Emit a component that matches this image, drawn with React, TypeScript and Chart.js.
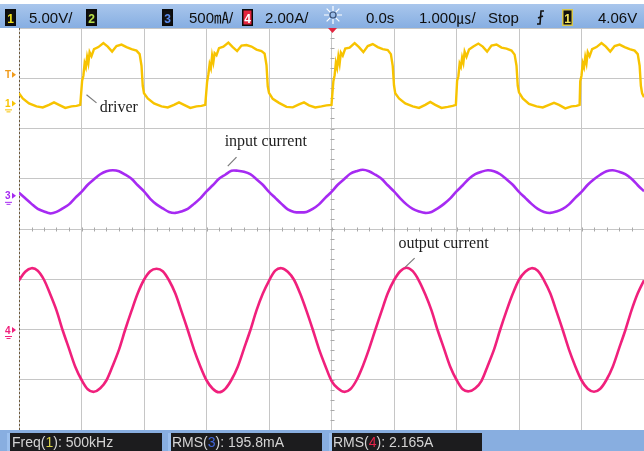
import React, { useEffect, useRef } from "react";
import { Chart, registerables } from "chart.js";

Chart.register(...registerables);

// time axis (µs, 1 µs/div, trigger at 0)
const timeUs = [
  -5.0, -4.9, -4.8, -4.7, -4.6, -4.5, -4.4, -4.3, -4.2, -4.1,
  -4.0, -3.9, -3.8, -3.7, -3.6, -3.5, -3.4, -3.3, -3.2, -3.1,
  -3.0, -2.9, -2.8, -2.7, -2.6, -2.5, -2.4, -2.3, -2.2, -2.1,
  -2.0, -1.9, -1.8, -1.7, -1.6, -1.5, -1.4, -1.3, -1.2, -1.1,
  -1.0, -0.9, -0.8, -0.7, -0.6, -0.5, -0.4, -0.3, -0.2, -0.1,
  0.0, 0.1, 0.2, 0.3, 0.4, 0.5, 0.6, 0.7, 0.8, 0.9,
  1.0, 1.1, 1.2, 1.3, 1.4, 1.5, 1.6, 1.7, 1.8, 1.9,
  2.0, 2.1, 2.2, 2.3, 2.4, 2.5, 2.6, 2.7, 2.8, 2.9,
  3.0, 3.1, 3.2, 3.3, 3.4, 3.5, 3.6, 3.7, 3.8, 3.9,
  4.0, 4.1, 4.2, 4.3, 4.4, 4.5, 4.6, 4.7, 4.8, 4.9,
  5.0,
];

// channel 3: input current (screen divisions)
const inputCurrentDiv = [
  0.72, 0.61, 0.5, 0.4, 0.35, 0.31, 0.34, 0.41, 0.49, 0.62,
  0.74, 0.88, 0.99, 1.09, 1.15, 1.17, 1.15, 1.08, 1.0, 0.87,
  0.75, 0.6, 0.49, 0.41, 0.34, 0.32, 0.35, 0.4, 0.5, 0.61,
  0.75, 0.87, 1.0, 1.08, 1.16, 1.16, 1.14, 1.09, 0.99, 0.88,
  0.74, 0.62, 0.5, 0.39, 0.34, 0.33, 0.34, 0.4, 0.49, 0.62,
  0.74, 0.88, 0.99, 1.1, 1.15, 1.18, 1.15, 1.08, 1.0, 0.87,
  0.75, 0.61, 0.49, 0.4, 0.35, 0.32, 0.34, 0.41, 0.5, 0.61,
  0.75, 0.87, 1.0, 1.09, 1.14, 1.17, 1.15, 1.09, 0.99, 0.88,
  0.74, 0.62, 0.5, 0.4, 0.34, 0.32, 0.35, 0.4, 0.49, 0.62,
  0.74, 0.88, 0.99, 1.08, 1.15, 1.17, 1.14, 1.09, 1.0, 0.87,
  0.75,
];

// channel 4: output current (screen divisions)
const outputCurrentDiv = [
  -1.02, -0.85, -0.78, -0.83, -1.01, -1.3, -1.62, -2.02, -2.38, -2.74,
  -3.0, -3.19, -3.24, -3.17, -3.01, -2.72, -2.4, -2.0, -1.63, -1.28,
  -1.01, -0.84, -0.79, -0.84, -1.02, -1.28, -1.64, -2.01, -2.4, -2.73,
  -3.01, -3.18, -3.25, -3.18, -3.0, -2.74, -2.38, -2.02, -1.62, -1.29,
  -1.03, -0.83, -0.78, -0.85, -1.01, -1.29, -1.63, -2.0, -2.39, -2.72,
  -3.02, -3.17, -3.24, -3.19, -3.01, -2.73, -2.39, -2.01, -1.64, -1.28,
  -1.02, -0.84, -0.77, -0.84, -1.03, -1.3, -1.62, -2.02, -2.38, -2.74,
  -3.0, -3.19, -3.23, -3.17, -3.02, -2.72, -2.4, -2.0, -1.63, -1.29,
  -1.01, -0.85, -0.78, -0.83, -1.02, -1.28, -1.64, -2.01, -2.4, -2.73,
  -3.01, -3.18, -3.24, -3.18, -3.0, -2.74, -2.38, -2.02, -1.62, -1.28,
  -1.02,
];

// channel 1: driver (sample times in µs, values in divisions)
const driverTimeUs = [
  -5.0, -4.94, -4.84, -4.72, -4.62, -4.52, -4.44, -4.36, -4.26, -4.16, -4.08, -4.02,
  -3.99, -3.97, -3.95, -3.93, -3.91, -3.89, -3.87, -3.84, -3.8, -3.73, -3.65, -3.58, -3.51, -3.44, -3.36, -3.28, -3.2, -3.12, -3.07, -3.04, -3.02,
  -3.0, -2.94, -2.84, -2.72, -2.62, -2.52, -2.44, -2.36, -2.26, -2.16, -2.08, -2.02,
  -1.99, -1.97, -1.95, -1.93, -1.91, -1.89, -1.87, -1.84, -1.8, -1.73, -1.65, -1.58, -1.51, -1.44, -1.36, -1.28, -1.2, -1.12, -1.07, -1.04, -1.02,
  -1.0, -0.94, -0.84, -0.72, -0.62, -0.52, -0.44, -0.36, -0.26, -0.16, -0.08, 0.0,
  0.03, 0.05, 0.07, 0.09, 0.11, 0.13, 0.15, 0.18, 0.22, 0.29, 0.37, 0.44, 0.51, 0.58, 0.66, 0.74, 0.82, 0.9, 0.95, 0.98, 1.0,
  1.02, 1.08, 1.18, 1.3, 1.4, 1.5, 1.58, 1.66, 1.76, 1.86, 1.94, 1.99,
  2.01, 2.03, 2.05, 2.07, 2.09, 2.11, 2.13, 2.16, 2.2, 2.27, 2.35, 2.42, 2.49, 2.56, 2.64, 2.72, 2.8, 2.88, 2.93, 2.96, 2.98,
  3.0, 3.06, 3.16, 3.28, 3.38, 3.48, 3.56, 3.64, 3.74, 3.84, 3.92, 3.97,
  3.98, 4.0, 4.02, 4.04, 4.06, 4.08, 4.1, 4.13, 4.17, 4.24, 4.32, 4.39, 4.46, 4.53, 4.61, 4.69, 4.77, 4.85, 4.9, 4.93, 4.95,
  4.97, 5.0,
];
const driverDiv = [
  2.7, 2.6, 2.5, 2.44, 2.42, 2.47, 2.52, 2.47, 2.41, 2.44, 2.45, 2.47,
  2.95, 3.05, 3.3, 3.22, 3.42, 3.3, 3.52, 3.44, 3.58, 3.62, 3.7, 3.63, 3.53, 3.64, 3.67, 3.62, 3.58, 3.55, 3.48, 3.25, 2.85,
  2.7, 2.6, 2.5, 2.44, 2.42, 2.47, 2.52, 2.47, 2.41, 2.44, 2.45, 2.47,
  2.93, 3.08, 3.28, 3.2, 3.45, 3.32, 3.5, 3.46, 3.6, 3.63, 3.71, 3.62, 3.54, 3.65, 3.66, 3.63, 3.57, 3.54, 3.49, 3.26, 2.84,
  2.71, 2.59, 2.51, 2.43, 2.42, 2.48, 2.52, 2.46, 2.42, 2.44, 2.46, 2.47,
  2.94, 3.06, 3.31, 3.21, 3.43, 3.29, 3.51, 3.45, 3.59, 3.61, 3.7, 3.62, 3.52, 3.64, 3.68, 3.62, 3.58, 3.56, 3.48, 3.24, 2.86,
  2.7, 2.6, 2.5, 2.44, 2.41, 2.47, 2.53, 2.47, 2.41, 2.43, 2.45, 2.47,
  2.95, 3.04, 3.29, 3.23, 3.41, 3.31, 3.53, 3.43, 3.57, 3.63, 3.69, 3.63, 3.53, 3.65, 3.67, 3.61, 3.59, 3.55, 3.47, 3.25, 2.85,
  2.72, 2.6, 2.49, 2.44, 2.42, 2.47, 2.51, 2.47, 2.4, 2.44, 2.45, 2.47,
  2.94, 3.05, 3.3, 3.22, 3.42, 3.3, 3.52, 3.44, 3.58, 3.62, 3.7, 3.63, 3.53, 3.64, 3.67, 3.62, 3.58, 3.55, 3.48, 3.25, 2.85,
  2.7, 2.62,
];

// on-screen readouts
const topReadouts = ["5.00V/", "500㎃/", "2.00A/", "0.0s", "1.000㎲/", "Stop", "4.06V"];
const bottomLabels = ["Freq(", "1", "): 500kHz", "RMS(", "3", "): 195.8mA", "RMS(", "4", "): 2.165A"];
const annotationTexts = ["driver", "input current", "output current"];

const SERIES_COLORS = { driver: "#f7c300", input: "#a62af2", output: "#f0207c" };
const UI_FONT = '"Liberation Sans", Arial, "Noto Sans CJK SC", sans-serif';

function badge(ctx: CanvasRenderingContext2D, x: number, digit: string, bg: string, fg: string, border?: string) {
  ctx.fillStyle = border || "#0a0a0a";
  ctx.fillRect(x, 9, 11, 17);
  ctx.fillStyle = bg;
  ctx.fillRect(x + 1.5, 10.5, 8, 14);
  ctx.fillStyle = fg;
  ctx.font = `bold 12px ${UI_FONT}`;
  ctx.textAlign = "center";
  ctx.fillText(digit, x + 5.5, 22.5);
  ctx.textAlign = "left";
}

function segments(ctx: CanvasRenderingContext2D, x: number, y: number, segs: [string, string][]) {
  let cx = x;
  for (const [t, c] of segs) {
    ctx.fillStyle = c;
    ctx.fillText(t, cx, y);
    cx += ctx.measureText(t).width;
  }
}

const scopePlugin = {
  id: "scopeDecor",
  beforeDraw(chart: any) {
    const { ctx, width, height } = chart;
    ctx.save();
    ctx.fillStyle = "#ffffff";
    ctx.fillRect(0, 0, width, height);
    ctx.restore();
  },
  beforeDatasetsDraw(chart: any) {
    const { ctx, chartArea: a } = chart;
    const x = chart.scales.x;
    const y = chart.scales.y;
    ctx.save();
    ctx.strokeStyle = "#a9a9a9";
    ctx.lineWidth = 1;
    const cx = Math.round(x.getPixelForValue(0)) + 0.5;
    const cy = Math.round(y.getPixelForValue(0)) + 0.5;
    ctx.beginPath();
    for (let v = -25; v <= 25; v++) {
      const px = Math.round(x.getPixelForValue(v / 5)) + 0.5;
      ctx.moveTo(px, cy - 2);
      ctx.lineTo(px, cy + 2);
    }
    for (let v = -20; v <= 20; v++) {
      const py = Math.round(y.getPixelForValue(v / 5)) + 0.5;
      ctx.moveTo(cx - 2, py);
      ctx.lineTo(cx + 2, py);
    }
    ctx.stroke();
    ctx.setLineDash([2, 2]);
    ctx.strokeStyle = "#6e5a3c";
    ctx.beginPath();
    ctx.moveTo(a.left + 0.5, a.top);
    ctx.lineTo(a.left + 0.5, a.bottom);
    ctx.stroke();
    ctx.restore();
  },
  afterDraw(chart: any) {
    const { ctx, width, height, chartArea: a } = chart;
    const x = chart.scales.x;
    const y = chart.scales.y;
    ctx.save();

    // annotations (serif labels with leader lines)
    const notes = [
      { t: annotationTexts[0], tx: -3.71, ty: 2.41, l: [-3.92, 2.67, -3.76, 2.51] },
      { t: annotationTexts[1], tx: -1.71, ty: 1.73, l: [-1.66, 1.25, -1.52, 1.43] },
      { t: annotationTexts[2], tx: 1.07, ty: -0.3, l: [1.18, -0.76, 1.33, -0.58] },
    ];
    ctx.font = '16px "Liberation Serif", "Times New Roman", serif';
    ctx.textBaseline = "middle";
    for (const n of notes) {
      ctx.strokeStyle = "#7a7a7a";
      ctx.lineWidth = 1.2;
      ctx.beginPath();
      ctx.moveTo(x.getPixelForValue(n.l[0]), y.getPixelForValue(n.l[1]));
      ctx.lineTo(x.getPixelForValue(n.l[2]), y.getPixelForValue(n.l[3]));
      ctx.stroke();
      ctx.fillStyle = "#1e1e1e";
      ctx.fillText(n.t, x.getPixelForValue(n.tx), y.getPixelForValue(n.ty));
    }
    ctx.textBaseline = "alphabetic";

    // channel markers on the left edge
    const markers = [
      { label: "T", color: "#f09a1a", level: 3.07, ground: false },
      { label: "1", color: SERIES_COLORS.driver, level: 2.5, ground: true },
      { label: "3", color: SERIES_COLORS.input, level: 0.66, ground: true },
      { label: "4", color: SERIES_COLORS.output, level: -2.01, ground: true },
    ];
    for (const m of markers) {
      const py = y.getPixelForValue(m.level);
      ctx.fillStyle = m.color;
      ctx.strokeStyle = m.color;
      ctx.font = `bold 10px ${UI_FONT}`;
      ctx.fillText(m.label, 5, py + 3.5);
      ctx.beginPath();
      ctx.moveTo(12, py - 3);
      ctx.lineTo(16, py);
      ctx.lineTo(12, py + 3);
      ctx.closePath();
      ctx.fill();
      if (m.ground) {
        ctx.lineWidth = 1;
        ctx.beginPath();
        ctx.moveTo(5, py + 6.5);
        ctx.lineTo(12, py + 6.5);
        ctx.moveTo(6.5, py + 8.5);
        ctx.lineTo(10.5, py + 8.5);
        ctx.stroke();
      }
    }

    // top status bar
    const grad = ctx.createLinearGradient(0, 4, 0, 28);
    grad.addColorStop(0, "#a9c6ec");
    grad.addColorStop(1, "#86aee2");
    ctx.fillStyle = grad;
    ctx.fillRect(0, 4, width, 24);
    badge(ctx, 5, "1", "#111", "#f2e21a");
    badge(ctx, 86, "2", "#111", "#b6e04a");
    badge(ctx, 162, "3", "#111", "#5a8cf0");
    badge(ctx, 242, "4", "#e3243e", "#ffffff");
    badge(ctx, 562, "1", "#111", "#f4e65a", "#d8c84a");
    ctx.font = `15px ${UI_FONT}`;
    ctx.fillStyle = "#0e0e0e";
    const topX = [29, 189, 265, 366, 419, 488, 598];
    topReadouts.forEach((t, i) => ctx.fillText(t, topX[i], 23));
    // display-mode sun icon
    const sx = 333;
    const sy = 15;
    ctx.strokeStyle = "#ffffff";
    ctx.lineWidth = 1.2;
    ctx.beginPath();
    for (let k = 0; k < 8; k++) {
      const ang = (k * Math.PI) / 4;
      ctx.moveTo(sx + Math.cos(ang) * 4, sy + Math.sin(ang) * 4);
      ctx.lineTo(sx + Math.cos(ang) * 9, sy + Math.sin(ang) * 9);
    }
    ctx.stroke();
    ctx.strokeStyle = "#3d5378";
    ctx.beginPath();
    ctx.arc(sx, sy, 3, 0, Math.PI * 2);
    ctx.stroke();
    // trigger slope icon
    ctx.strokeStyle = "#111";
    ctx.lineWidth = 1.6;
    ctx.beginPath();
    ctx.moveTo(544, 11);
    ctx.lineTo(541, 11);
    ctx.lineTo(540, 24);
    ctx.lineTo(537, 24);
    ctx.moveTo(538, 18);
    ctx.lineTo(543, 16);
    ctx.stroke();
    // trigger position marker
    const tx = Math.round(x.getPixelForValue(0)) + 0.5;
    ctx.fillStyle = "#e3243e";
    ctx.beginPath();
    ctx.moveTo(tx - 4.5, a.top);
    ctx.lineTo(tx + 4.5, a.top);
    ctx.lineTo(tx, a.top + 5);
    ctx.closePath();
    ctx.fill();

    // bottom measurement bar
    ctx.fillStyle = "#88aee0";
    ctx.fillRect(0, 430, width, height - 430);
    const boxes = [
      { x: 7, w: 155, tx: 12, segs: bottomLabels.slice(0, 3), c: "#d8d24a" },
      { x: 168, w: 154, tx: 172, segs: bottomLabels.slice(3, 6), c: "#4166d8" },
      { x: 329, w: 153, tx: 333, segs: bottomLabels.slice(6, 9), c: "#e3244a" },
    ];
    ctx.font = `14px ${UI_FONT}`;
    for (const b of boxes) {
      ctx.fillStyle = "#1c1c1e";
      ctx.fillRect(b.x, 433, b.w, height - 433);
      ctx.fillStyle = "#9cc0ee";
      ctx.fillRect(b.x, 433, 3, height - 433);
      segments(ctx, b.tx, 447, [
        [b.segs[0], "#d4d4d4"],
        [b.segs[1], b.c],
        [b.segs[2], "#d4d4d4"],
      ]);
    }
    ctx.restore();
  },
};

export default function App() {
  const ref = useRef<HTMLCanvasElement>(null);
  useEffect(() => {
    document.body.style.margin = "0";
    const chart = new Chart(ref.current as HTMLCanvasElement, {
      type: "line",
      data: {
        datasets: [
          {
            label: "driver",
            data: driverTimeUs.map((t, i) => ({ x: t, y: driverDiv[i] })),
            borderColor: SERIES_COLORS.driver,
            borderWidth: 2.4,
            pointRadius: 0,
            tension: 0,
          },
          {
            label: "input current",
            data: timeUs.map((t, i) => ({ x: t, y: inputCurrentDiv[i] })),
            borderColor: SERIES_COLORS.input,
            borderWidth: 2.6,
            pointRadius: 0,
            tension: 0.3,
          },
          {
            label: "output current",
            data: timeUs.map((t, i) => ({ x: t, y: outputCurrentDiv[i] })),
            borderColor: SERIES_COLORS.output,
            borderWidth: 2.6,
            pointRadius: 0,
            tension: 0.3,
          },
        ],
      },
      options: {
        responsive: false,
        animation: false,
        devicePixelRatio: 1,
        layout: { padding: { left: 19, top: 28, right: 0, bottom: 21 } },
        plugins: { legend: { display: false }, tooltip: { enabled: false } },
        scales: {
          x: {
            type: "linear",
            min: -5,
            max: 5,
            ticks: { display: false, stepSize: 1 },
            grid: { color: "#c6c6c6", drawTicks: false, lineWidth: 1 },
            border: { display: false },
          },
          y: {
            type: "linear",
            min: -4,
            max: 4,
            ticks: { display: false, stepSize: 1 },
            grid: { color: "#c6c6c6", drawTicks: false, lineWidth: 1 },
            border: { display: false },
          },
        },
      },
      plugins: [scopePlugin],
    } as any);
    return () => chart.destroy();
  }, []);
  return (
    <div style={{ width: 644, height: 451 }}>
      <canvas ref={ref} width={644} height={451} style={{ display: "block" }} />
    </div>
  );
}
